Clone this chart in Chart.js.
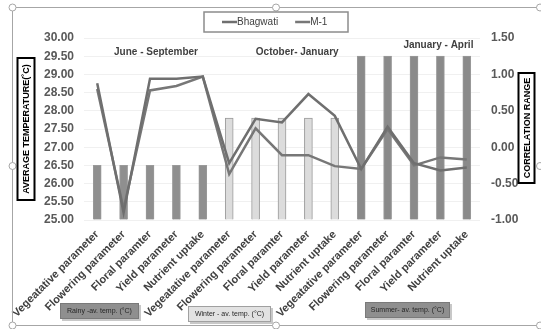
<!DOCTYPE html>
<html>
<head>
<meta charset="utf-8">
<script src="https://cdn.jsdelivr.net/npm/chart.js@4.4.0/dist/chart.umd.min.js"></script>
<style>
  html, body { margin: 0; padding: 0; background: #fff; }
  #wrap { width: 541px; height: 329px; }
</style>
</head>
<body>
<div id="wrap"><canvas id="tempChart" width="541" height="329"></canvas></div>
<script>
var categories = [
    'Vegeatative parameter', 'Flowering parameter', 'Floral paramter', 'Yield parameter', 'Nutrient uptake',
    'Vegeatative parameter', 'Flowering parameter', 'Floral paramter', 'Yield parameter', 'Nutrient uptake',
    'Vegeatative parameter', 'Flowering parameter', 'Floral paramter', 'Yield parameter', 'Nutrient uptake'
];
// average temperature per season (left axis)
var avgTemp = [26.5, 26.5, 26.5, 26.5, 26.5, 27.8, 27.8, 27.8, 27.8, 27.8, 29.5, 29.5, 29.5, 29.5, 29.5];
var barColors = ['#8f8f8f', '#8f8f8f', '#8f8f8f', '#8f8f8f', '#8f8f8f',
    '#dcdcdc', '#dcdcdc', '#dcdcdc', '#dcdcdc', '#dcdcdc',
    '#8a8a8a', '#8a8a8a', '#8a8a8a', '#8a8a8a', '#8a8a8a'];
// correlation values (right axis)
var bhagwati = [0.88, -0.90, 0.94, 0.94, 0.97, -0.22, 0.39, 0.34, 0.73, 0.43, -0.30, 0.28, -0.22, -0.32, -0.28];
var m1 = [0.80, -0.85, 0.78, 0.84, 0.97, -0.37, 0.26, -0.11, -0.11, -0.26, -0.30, 0.25, -0.25, -0.14, -0.17];
var leftTicks = [25, 30, 0.5];
var rightTicks = [-1, 1.5, 0.5];
var seasonTitles = ['June - September', 'October- January', 'January - April'];
var seasonBoxes = ['Rainy -av. temp. (°C)', 'Winter - av. temp. (°C)', 'Summer- av. temp. (°C)'];

var FONT = '"Liberation Sans", Arial, sans-serif';

var extras = {
    id: 'extras',
    afterDraw: function (chart) {
        var ctx = chart.ctx;
        var x = chart.scales.x, y = chart.scales.y;
        ctx.save();

        // frame with handles
        ctx.strokeStyle = '#a6a6a6';
        ctx.lineWidth = 1;
        ctx.beginPath();
        ctx.moveTo(541, 7.5); ctx.lineTo(12.5, 7.5); ctx.lineTo(12.5, 325.5); ctx.lineTo(541, 325.5);
        ctx.stroke();
        [[12.5, 7.5], [276, 7.5], [540, 7.5], [12.5, 166], [540, 166], [12.5, 325.5], [276, 325.5], [540, 325.5]].forEach(function (p) {
            ctx.beginPath();
            ctx.arc(p[0], p[1], 3.5, 0, Math.PI * 2);
            ctx.fillStyle = '#fff';
            ctx.fill();
            ctx.stroke();
        });

        // legend
        ctx.strokeStyle = '#8c8c8c';
        ctx.lineWidth = 1.5;
        ctx.strokeRect(204, 12, 144, 20);
        ctx.font = '10px ' + FONT;
        ctx.textBaseline = 'middle';
        ctx.textAlign = 'left';
        var lx = 222;
        chart.data.datasets.forEach(function (ds) {
            if (ds.type !== 'line') return;
            ctx.strokeStyle = ds.borderColor;
            ctx.lineWidth = 2.5;
            ctx.beginPath();
            ctx.moveTo(lx, 22); ctx.lineTo(lx + 15, 22);
            ctx.stroke();
            ctx.fillStyle = '#404040';
            ctx.fillText(ds.label, lx + 15, 22.5);
            lx += 15 + ctx.measureText(ds.label).width + 17;
        });

        // season titles
        ctx.font = 'bold 10px ' + FONT;
        ctx.textAlign = 'center';
        ctx.fillStyle = '#404040';
        ctx.fillText(seasonTitles[0], x.getPixelForValue(2) + 6, y.getPixelForValue(29.6));
        ctx.fillText(seasonTitles[1], (x.getPixelForValue(7) + x.getPixelForValue(8)) / 2 + 2, y.getPixelForValue(29.6));
        ctx.fillText(seasonTitles[2], x.getPixelForValue(13) - 2, y.getPixelForValue(29.8));

        // season boxes below the axis
        var boxes = [
            { x: 60, y: 303, w: 79, h: 16, fill: '#8f8f8f', stroke: '#7a7a7a' },
            { x: 188, y: 306, w: 83, h: 16, fill: '#e2e2e2', stroke: '#a0a0a0' },
            { x: 365, y: 302, w: 85, h: 16, fill: '#8f8f8f', stroke: '#7a7a7a' }
        ];
        ctx.font = '7px ' + FONT;
        boxes.forEach(function (b, i) {
            ctx.fillStyle = '#c8c8c8';
            ctx.fillRect(b.x + 2, b.y + 2, b.w, b.h);
            ctx.fillStyle = b.fill;
            ctx.fillRect(b.x, b.y, b.w, b.h);
            ctx.strokeStyle = b.stroke;
            ctx.lineWidth = 1;
            ctx.strokeRect(b.x + 0.5, b.y + 0.5, b.w - 1, b.h - 1);
            ctx.fillStyle = '#262626';
            ctx.fillText(seasonBoxes[i], b.x + b.w / 2, b.y + b.h / 2);
        });

        // axis titles in boxes
        function vTitle(text, cx, cy, w, h, size) {
            ctx.save();
            ctx.translate(cx, cy);
            ctx.rotate(-Math.PI / 2);
            ctx.strokeStyle = '#000';
            ctx.lineWidth = 2;
            ctx.strokeRect(-h / 2, -w / 2, h, w);
            ctx.fillStyle = '#000';
            ctx.font = 'bold ' + size + 'px ' + FONT;
            ctx.textAlign = 'center';
            ctx.textBaseline = 'middle';
            ctx.fillText(text, 0, 1);
            ctx.restore();
        }
        vTitle('AVERAGE TEMPERATURE(˚C)', 26, 129, 17, 142, 9);
        vTitle('CORRELATION RANGE', 526.5, 128, 16, 110, 9);
        ctx.restore();
    }
};

new Chart(document.getElementById('tempChart'), {
    data: {
        labels: categories,
        datasets: [
            {
                type: 'line', label: 'Bhagwati', data: bhagwati, yAxisID: 'y1',
                borderColor: '#6f6f6f', borderWidth: 2.5, pointRadius: 0, tension: 0, order: 1
            },
            {
                type: 'line', label: 'M-1', data: m1, yAxisID: 'y1',
                borderColor: '#777777', borderWidth: 2.5, pointRadius: 0, tension: 0, order: 1
            },
            {
                type: 'bar', label: 'Average temperature', data: avgTemp, yAxisID: 'y',
                backgroundColor: barColors, borderColor: '#9a9a9a', borderWidth: 1,
                barThickness: 8, base: leftTicks[0], order: 2
            }
        ]
    },
    options: {
        responsive: false,
        animation: false,
        layout: { padding: { top: 38, left: 0, right: 0, bottom: 0 } },
        plugins: { legend: { display: false }, tooltip: { enabled: false } },
        scales: {
            x: {
                grid: { display: false },
                border: { display: false },
                ticks: {
                    autoSkip: false, minRotation: 45, maxRotation: 45, padding: 0,
                    color: '#404040', font: { family: FONT, size: 11, weight: 'bold' }
                },
                afterFit: function (s) { s.height = 109; }
            },
            y: {
                position: 'left', min: leftTicks[0], max: leftTicks[1],
                grid: { color: '#f0f0f0', drawTicks: false },
                border: { display: false },
                ticks: {
                    stepSize: leftTicks[2], padding: 10, color: '#595959',
                    font: { family: FONT, size: 12, weight: 'bold' },
                    callback: function (v) { return v.toFixed(2); }
                },
                afterFit: function (s) { s.width = 84; }
            },
            y1: {
                position: 'right', min: rightTicks[0], max: rightTicks[1],
                grid: { display: false, drawTicks: false },
                border: { display: false },
                ticks: {
                    stepSize: rightTicks[2], padding: 11, color: '#595959',
                    font: { family: FONT, size: 12, weight: 'bold' },
                    callback: function (v) { return v.toFixed(2); }
                },
                afterFit: function (s) { s.width = 61; }
            }
        }
    },
    plugins: [extras]
});
</script>
</body>
</html>
